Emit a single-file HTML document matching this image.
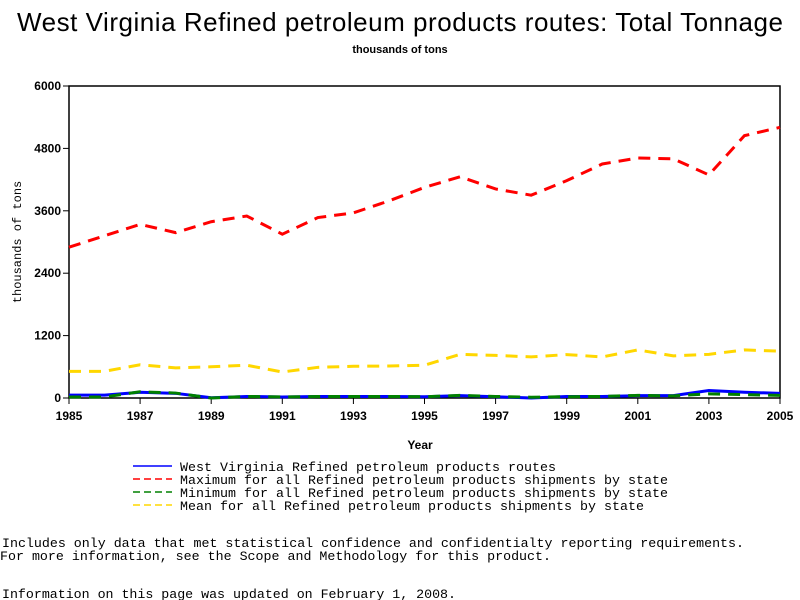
<!DOCTYPE html>
<html><head><meta charset="utf-8"><style>
body{margin:0;background:#fff;width:800px;height:600px;overflow:hidden}
svg{display:block}
</style></head><body>
<svg id="chart" width="800" height="600" xmlns="http://www.w3.org/2000/svg">
<text x="400" y="31" text-anchor="middle" font-family="Liberation Sans, sans-serif" font-size="26" textLength="766" lengthAdjust="spacing">West Virginia Refined petroleum products routes: Total Tonnage</text>
<text x="400" y="53" text-anchor="middle" font-family="Liberation Sans, sans-serif" font-size="11" font-weight="bold">thousands of tons</text>
<text x="420" y="449" text-anchor="middle" font-family="Liberation Sans, sans-serif" font-size="12" font-weight="bold">Year</text>
<text transform="translate(21,242) rotate(-90)" text-anchor="middle" font-family="Liberation Mono, monospace" font-size="12">thousands of tons</text>
<g id="plot"></g>
<g font-family="Liberation Mono, monospace" font-size="13.3">
<line x1="133" y1="466" x2="172" y2="466" stroke="#0000ff" stroke-width="1.5"/>
<text x="180" y="471" textLength="376" lengthAdjust="spacing">West Virginia Refined petroleum products routes</text>
<line x1="133" y1="479" x2="172" y2="479" stroke="#ff0000" stroke-width="1.5" stroke-dasharray="7,4"/>
<text x="180" y="484" textLength="488" lengthAdjust="spacing">Maximum for all Refined petroleum products shipments by state</text>
<line x1="133" y1="492" x2="172" y2="492" stroke="#008000" stroke-width="1.5" stroke-dasharray="7,4"/>
<text x="180" y="497" textLength="488" lengthAdjust="spacing">Minimum for all Refined petroleum products shipments by state</text>
<line x1="133" y1="505" x2="172" y2="505" stroke="#ffd700" stroke-width="1.5" stroke-dasharray="7,4"/>
<text x="180" y="510" textLength="464" lengthAdjust="spacing">Mean for all Refined petroleum products shipments by state</text>
</g>
<g font-family="Liberation Mono, monospace" font-size="13.3">
<text x="2" y="547" textLength="742" lengthAdjust="spacing">Includes only data that met statistical confidence and confidentialty reporting requirements.</text>
<text x="0" y="560" textLength="551" lengthAdjust="spacing">For more information, see the Scope and Methodology for this product.</text>
<text x="2" y="598" textLength="454" lengthAdjust="spacing">Information on this page was updated on February 1, 2008.</text>
</g>
</svg>
<script>
const years=[1985,1986,1987,1988,1989,1990,1991,1992,1993,1994,1995,1996,1997,1998,1999,2000,2001,2002,2003,2004,2005];
const maxVals=[2900,3120,3340,3180,3390,3500,3150,3470,3560,3790,4050,4255,4020,3900,4180,4500,4615,4600,4290,5045,5205];
const meanVals=[513,513,640,580,600,630,500,590,610,615,630,840,820,790,835,790,925,810,840,925,900];
const minVals=[20,20,120,95,0,30,20,30,30,30,25,50,30,15,25,30,50,40,80,65,50];
const wvVals=[55,55,110,90,5,30,20,30,30,30,25,45,25,0,30,30,45,45,145,110,90];
const yTicks=[0,1200,2400,3600,4800,6000];
const xTickLabels=[1985,1987,1989,1991,1993,1995,1997,1999,2001,2003,2005];
const L=69,R=780,T=86,B=398,NS="http://www.w3.org/2000/svg";
const xS=y=>L+(y-1985)/(2005-1985)*(R-L);
const yS=v=>B-v/6000*(B-T);
const g=document.getElementById('plot');
function mk(t,a){const e=document.createElementNS(NS,t);for(const k in a)e.setAttribute(k,a[k]);g.appendChild(e);return e;}
const frame=mk('rect',{x:L,y:T,width:R-L,height:B-T,fill:'none',stroke:'#000','stroke-width':1.5});


yTicks.forEach(v=>{
 const t=mk('line',{x1:L-6,x2:L,y1:yS(v),y2:yS(v),stroke:'#000'});
 
 
 const l=mk('text',{x:L-8,y:yS(v)+4,'text-anchor':'end','font-family':'Liberation Sans, sans-serif','font-size':12,'font-weight':'bold'});
 l.textContent=v;
 
 
});
xTickLabels.forEach(v=>{
 const t=mk('line',{x1:xS(v),x2:xS(v),y1:B,y2:B+6,stroke:'#000'});
 
 
 const l=mk('text',{x:xS(v),y:B+22,'text-anchor':'middle','font-family':'Liberation Sans, sans-serif','font-size':12,'font-weight':'bold'});
 l.textContent=v;
 
 
});
function series(vals,color,dash,name){
 const p=mk('polyline',{points:vals.map((v,i)=>xS(years[i])+','+yS(v)).join(' '),fill:'none',stroke:color,'stroke-width':3,'stroke-dasharray':dash});
 
 
}
series(wvVals,'#0000ff','none','series-west-virginia');
series(meanVals,'#ffd700','12,8','series-mean');
series(minVals,'#008000','12,8','series-minimum');
series(maxVals,'#ff0000','12,8','series-maximum');
</script>
</body></html>
